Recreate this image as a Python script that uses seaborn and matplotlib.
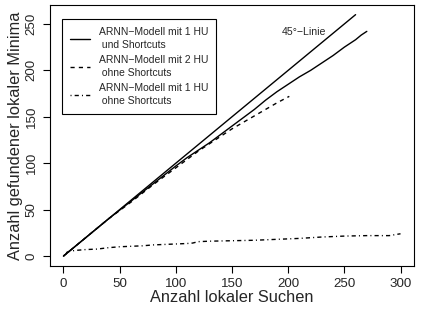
import matplotlib
matplotlib.use("Agg")
import matplotlib.pyplot as plt
import seaborn as sns
import pandas as pd

# Data
x_1hu_sc = [0, 10, 20, 30, 40, 50, 60, 70, 80, 90, 100, 110, 120, 130, 140, 150, 160, 170, 180, 190, 200, 210, 220, 230, 240, 250, 260, 265, 270]
y_1hu_sc = [0, 10, 20, 30, 40, 49.5, 59, 68.5, 78, 87.5, 97, 106, 114, 122, 131, 140, 149, 158, 168, 177, 185, 193, 200, 208, 216, 225, 233, 238, 242]

x_2hu = [0, 10, 20, 30, 40, 50, 60, 70, 80, 90, 100, 110, 120, 130, 140, 150, 160, 170, 180, 190, 201]
y_2hu = [0, 10, 20, 30, 40, 49, 58, 67.5, 77, 86, 95, 104, 113, 121, 129, 137, 144, 151, 158, 165, 172]

x_1hu = [0, 3, 5, 10, 20, 30, 40, 50, 60, 70, 80, 90, 100, 110, 115, 120, 130, 150, 170, 190, 210, 230, 250, 270, 290, 295, 300]
y_1hu = [0, 4, 5, 6, 7, 7.5, 9, 10, 10.5, 11, 12, 12.5, 13, 13.5, 14, 15.5, 16, 16.5, 17, 18, 19, 20.5, 21.5, 22, 22, 23, 24]

x_45 = [0, 260]
y_45 = [0, 260]

labels = ["ARNN\u2212Modell mit 1 HU\n und Shortcuts",
          "ARNN\u2212Modell mit 2 HU\n ohne Shortcuts",
          "ARNN\u2212Modell mit 1 HU\n ohne Shortcuts"]
xticks = [0, 50, 100, 150, 200, 250, 300]
yticks = [0, 50, 100, 150, 200, 250]

sns.set_style("white")
plt.rcParams['font.family'] = ['Liberation Sans', 'DejaVu Sans']

fig = plt.figure(figsize=(4.21, 3.09), dpi=100)
ax = fig.add_axes([50/421, 1 - 265.7/309, (414-50)/421, (265.7-5)/309])

lw = 1.0
sns.lineplot(x=x_45, y=y_45, ax=ax, color="black", lw=lw, estimator=None, sort=False)
sns.lineplot(x=x_1hu_sc, y=y_1hu_sc, ax=ax, color="black", lw=lw, estimator=None, sort=False, label=labels[0])
sns.lineplot(x=x_2hu, y=y_2hu, ax=ax, color="black", lw=lw, estimator=None, sort=False, label=labels[1],
             linestyle=(0, (3, 3)))
sns.lineplot(x=x_1hu, y=y_1hu, ax=ax, color="black", lw=lw, estimator=None, sort=False, label=labels[2],
             linestyle=(0, (0.75, 2.25, 3, 2.25)))

ax.set_xlim(-12, 312)
ax.set_ylim(-10.4, 270.4)
ax.set_xticks(xticks)
ax.set_yticks(yticks)
ax.set_xticklabels([str(v) for v in xticks], fontsize=9.6)
ax.set_yticklabels([str(v) for v in yticks], fontsize=9.6, rotation=90, va="center")
ax.tick_params(axis="both", direction="out", length=5, width=0.8, color="black", pad=4, bottom=True, left=True)
for s in ax.spines.values():
    s.set_color("black")
    s.set_linewidth(0.8)

ax.set_xlabel("Anzahl lokaler Suchen", fontsize=11.8, labelpad=0)
ax.set_ylabel("Anzahl gefundener lokaler Minima", fontsize=11.8, labelpad=2)

ax.text(214, 241, "45\u00b0\u2212Linie", fontsize=7.6, ha="center", va="center")

leg = ax.legend(loc="upper left", bbox_to_anchor=((62-50)/364, 1 - (19-5)/260.7),
                fontsize=7.5, frameon=True, fancybox=False, edgecolor="black",
                handlelength=1.9, handletextpad=0.9, labelspacing=0.45,
                borderpad=0.75, borderaxespad=0)
for t in leg.get_texts():
    t.set_linespacing(1.4)
leg.get_frame().set_linewidth(0.8)
leg.get_frame().set_alpha(1)

fig.savefig("out.png", dpi=100)
